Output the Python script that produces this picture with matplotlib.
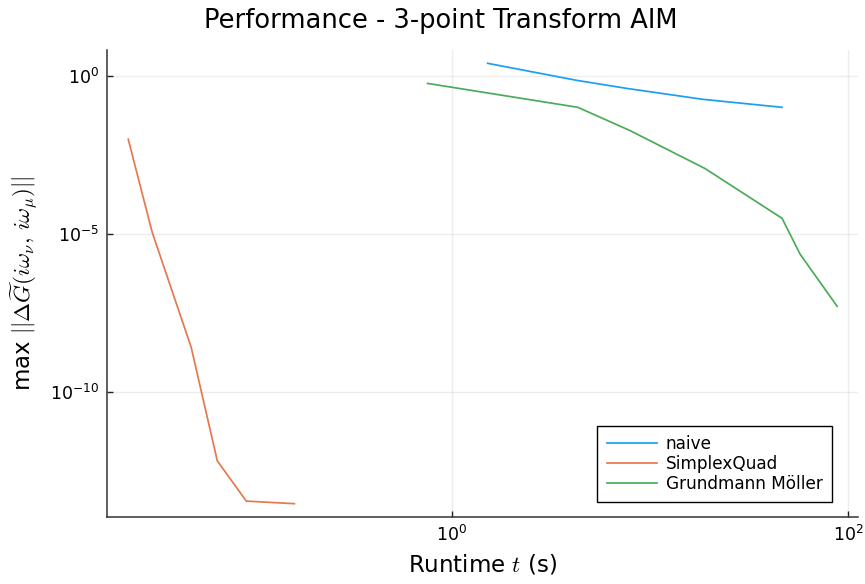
import matplotlib
matplotlib.use("Agg")
import matplotlib.pyplot as plt
from matplotlib.ticker import FixedLocator, NullLocator, LogFormatterMathtext

plt.rcParams["mathtext.fontset"] = "cm"

# runtimes (s) and max error
naive_t = [1.52, 4.28, 7.65, 18.5, 46.4]
naive_err = [2.6, 0.75, 0.417, 0.188, 0.105]

simplex_t = [0.0234, 0.0309, 0.0486, 0.0658, 0.0922, 0.161]
simplex_err = [1.02e-2, 1.15e-5, 2.6e-9, 6.6e-13, 3.5e-14, 2.9e-14]

gm_t = [0.757, 4.33, 7.9, 19.0, 46.4, 57.3, 88.0]
gm_err = [0.60, 0.105, 1.95e-2, 1.2e-3, 3.2e-5, 2.3e-6, 5.2e-8]

fig = plt.figure(figsize=(8.65, 5.84), dpi=100)
ax = fig.add_axes([0.1237, 0.1147, 0.8683, 0.7993])

ax.plot(naive_t, naive_err, color="#1A9FF5", lw=1.25, label="naive")
ax.plot(simplex_t, simplex_err, color="#E6784F", lw=1.25, label="SimplexQuad")
ax.plot(gm_t, gm_err, color="#4DAA5A", lw=1.25, label="Grundmann Möller")

ax.set_xscale("log")
ax.set_yscale("log")
ax.set_xlim(10**-1.738, 10**2.05)
ax.set_ylim(10**-13.96, 10**0.83)

ax.xaxis.set_major_locator(FixedLocator([1e0, 1e2]))
ax.yaxis.set_major_locator(FixedLocator([1e-10, 1e-5, 1e0]))
ax.xaxis.set_minor_locator(NullLocator())
ax.yaxis.set_minor_locator(NullLocator())
ax.xaxis.set_major_formatter(LogFormatterMathtext())
ax.yaxis.set_major_formatter(LogFormatterMathtext())
ax.tick_params(direction="in", length=4, width=1, labelsize=12.5, colors="#222222", pad=6)
ax.tick_params(labelcolor="black")

for side in ["top", "right"]:
    ax.spines[side].set_visible(False)
for side in ["left", "bottom"]:
    ax.spines[side].set_color("#333333")
    ax.spines[side].set_linewidth(1.1)

ax.grid(True, color="black", alpha=0.07, lw=1)

fig.text(0.509, 0.964, "Performance - 3-point Transform AIM", fontsize=18.5,
         ha="center", va="center")
ax.set_xlabel("Runtime $t$ (s)", fontsize=16.5)
ax.set_ylabel(r"max $||\Delta \widetilde{G}(i\omega_\nu,\, i\omega_\mu)||$", fontsize=16.5)
ax.yaxis.set_label_coords(-0.089, 0.5)
ax.xaxis.set_label_coords(0.5, -0.077)

leg = ax.legend(loc="lower right", bbox_to_anchor=(0.9654, 0.0321), borderaxespad=0,
                fontsize=12.2, fancybox=False, framealpha=1, edgecolor="black",
                handlelength=3.0, labelspacing=0.1, borderpad=0.55, handletextpad=0.5)
leg.get_frame().set_linewidth(1.0)

fig.savefig("out.png", dpi=100)
